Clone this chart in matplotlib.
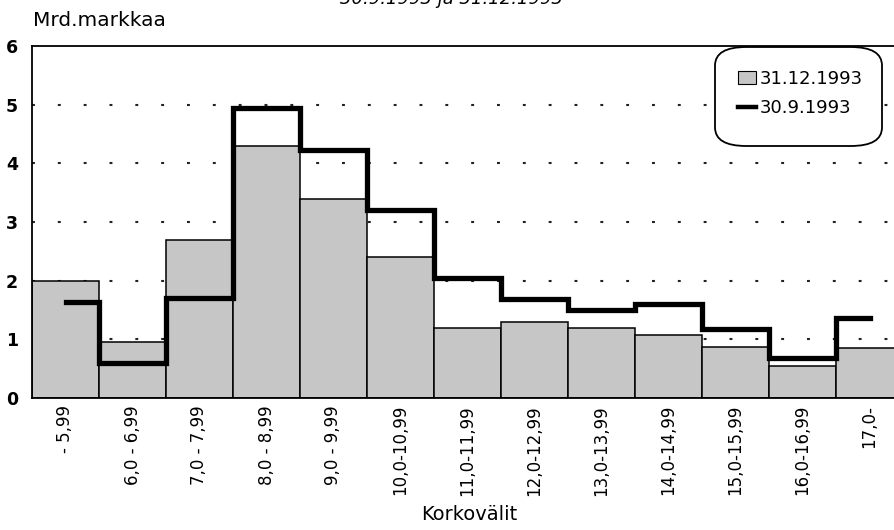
import numpy as np
import matplotlib.pyplot as plt
from matplotlib.patches import Patch, FancyBboxPatch
from matplotlib.lines import Line2D

plt.rcParams['font.family'] = ['DejaVu Sans']

# Korkovälit (interest rate ranges)
categories = ['- 5,99', '6,0 - 6,99', '7,0 - 7,99', '8,0 - 8,99', '9,0 - 9,99',
              '10,0-10,99', '11,0-11,99', '12,0-12,99', '13,0-13,99',
              '14,0-14,99', '15,0-15,99', '16,0-16,99', '17,0-']
# Mrd. markkaa
dec_1993 = [2.0, 0.95, 2.7, 4.3, 3.4, 2.4, 1.2, 1.3, 1.2, 1.08, 0.87, 0.55, 0.85]
sep_1993 = [1.63, 0.6, 1.7, 4.95, 4.22, 3.2, 2.05, 1.68, 1.5, 1.6, 1.17, 0.68, 1.36]

x = np.arange(len(categories))
W, H = 895, 530

fig = plt.figure(figsize=(W / 100, H / 100), dpi=100)
ax = fig.add_axes([32/W, (H - 398)/H, 871/W, 352/H])

# dotted gridlines behind the bars
for yv in range(1, 6):
    ax.axhline(yv, color='#222222', linestyle=(0, (1.4, 11)), linewidth=1.5, zorder=0)

ax.bar(x, dec_1993, width=1.0, color='#c6c6c6', edgecolor='black', linewidth=1.1, zorder=2)
ax.plot(x, sep_1993, drawstyle='steps-mid', color='black', linewidth=3.8,
        solid_joinstyle='miter', zorder=3)

ax.set_xlim(-0.5, len(categories) - 0.5)
ax.set_ylim(0, 6)
ax.set_yticks(range(0, 7))
ax.set_xticks(x)
ax.set_xticklabels(categories, rotation=90, fontsize=12)
ax.tick_params(axis='x', length=0, pad=5)
ax.tick_params(axis='y', length=0, pad=10, labelsize=12.5)
for lab in ax.get_yticklabels():
    lab.set_fontweight('bold')
for s in ['left', 'top', 'bottom']:
    ax.spines[s].set_linewidth(1.3)
ax.spines['right'].set_visible(False)

fig.text(33/W, 1 - 21/H, 'Mrd.markkaa', fontsize=14.5, ha='left', va='center')
fig.text(469/W, 1 - 514/H, 'Korkovälit', fontsize=14, ha='center', va='center')
fig.text(452/W, 1 - 4/H, '30.9.1993 ja 31.12.1993', fontsize=13, style='italic',
         ha='center', va='baseline')

# legend with a rounded frame
frame = FancyBboxPatch((715/W, 1 - 146/H), 167/W, 99/H,
                       boxstyle='round,pad=0,rounding_size=0.035',
                       transform=fig.transFigure, facecolor='white',
                       edgecolor='black', linewidth=1.3, zorder=5)
fig.patches.append(frame)
handles = [Patch(facecolor='#c6c6c6', edgecolor='black', linewidth=0.8),
           Line2D([0], [0], color='black', linewidth=3.2)]
leg = fig.legend(handles, ['31.12.1993', '30.9.1993'], loc='upper left',
                 bbox_to_anchor=(738/W, 1 - 70/H), fontsize=13, frameon=False,
                 handlelength=1.0, handletextpad=0.2, borderpad=0, borderaxespad=0,
                 labelspacing=0.62)
leg.set_zorder(6)

fig.savefig('out.png', dpi=100)
